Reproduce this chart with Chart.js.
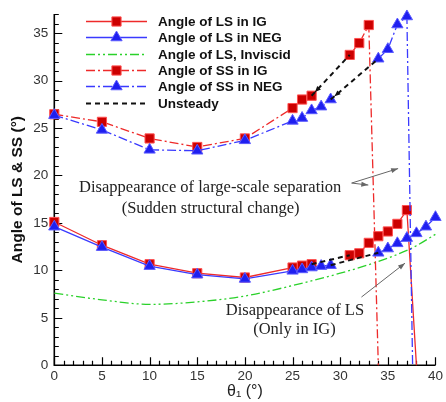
<!DOCTYPE html>
<html><head><meta charset="utf-8">
<script src="https://cdn.jsdelivr.net/npm/chart.js@4.4.1/dist/chart.umd.min.js"></script>
<style>html,body{margin:0;padding:0;background:#fff}#wrap{width:446px;height:402px;position:relative}</style>
</head><body><div id="wrap"><canvas id="c"></canvas></div>
<script>
// ---- data (x = theta1 in deg, y = angle in deg; null = gap) ----
const lsIG   = [[0,15.1],[5,12.65],[10,10.65],[15,9.7],[20,9.25],[25,10.3],[26,10.5],[27,10.65],[29,null],[31,11.6],[32,11.8],[33,12.9],[34,13.6],[35,14.1],[36,14.9],[37,16.35],[38,0]];
const lsNEG  = [[0,14.6],[5,12.45],[10,10.45],[15,9.55],[20,9.1],[25,9.95],[26,10.1],[27,10.3],[28,10.45],[29,10.55],[31,null],[34,11.85],[35,12.3],[36,12.85],[37,13.4],[38,13.9],[39,14.6],[40,15.6]];
const lsInv  = [[0,7.6],[5,6.9],[10,6.42],[15,6.68],[20,7.3],[25,8.4],[30,9.7],[33,10.6],[35,11.3],[37,12.1],[38,12.6],[40,13.8]];
const ssIG   = [[0,26.45],[5,25.65],[10,23.9],[15,23.0],[20,23.9],[25,27.1],[26,28.0],[27,28.4],[29,null],[31,32.7],[32,33.95],[33,35.85],[34,0]];
const ssNEG  = [[0,26.35],[5,24.8],[10,22.7],[15,22.6],[20,23.7],[25,25.75],[26,26.05],[27,26.85],[28,27.25],[29,28.0],[31,null],[34,32.3],[35,33.3],[36,35.9],[37,36.75],[37.6,0]];
const unsteady = [[27,28.4],[31,32.7],[30,null],[29,28.0],[34,32.3],[30,null],[27,10.65],[31,11.6],[30,null],[29,10.55],[34,11.85]];
const xTicks = [0,5,10,15,20,25,30,35,40];
const yTicks = [0,5,10,15,20,25,30,35];
const endPoints = {lsIG:[38,0], ssIG:[34,0], ssNEG:[37.6,0]};

const toPts = a => a.map(p => ({x:p[0], y:p[1]}));
const isEnd = (name) => (ctx) => { const e = endPoints[name]; const r = ctx.raw; return (e && r && r.x===e[0] && r.y===e[1]) ? 0 : 6.5; };

const RED_L='#ee2a2a', RED_F='#cc0000', BLUE_L='#3a3aff', BLUE_F='#1f1ff0', GREEN='#2ad12a';
const DD=[9,3,2,3], DDD=[9,3,2,3,2,3];

const datasets = [
 {label:'Angle of LS in IG', data:toPts(lsIG), borderColor:RED_L, borderWidth:1.3, pointStyle:'rect', pointRadius:isEnd('lsIG'), pointBackgroundColor:RED_F, pointBorderColor:'#ff5050', pointBorderWidth:1, spanGaps:false, clip:false, order:2},
 {label:'Angle of LS in NEG', data:toPts(lsNEG), borderColor:BLUE_L, borderWidth:1.3, pointStyle:'triangle', pointRadius:6.5, pointBackgroundColor:BLUE_F, pointBorderColor:'#5a5aff', pointBorderWidth:1, spanGaps:false, clip:false, order:1},
 {label:'Angle of LS, Inviscid', data:toPts(lsInv), borderColor:GREEN, borderWidth:1.3, borderDash:DDD, pointRadius:0, cubicInterpolationMode:'monotone', clip:false, order:3},
 {label:'Angle of SS in IG', data:toPts(ssIG), borderColor:RED_L, borderWidth:1.3, borderDash:DD, pointStyle:'rect', pointRadius:isEnd('ssIG'), pointBackgroundColor:RED_F, pointBorderColor:'#ff5050', pointBorderWidth:1, spanGaps:false, clip:false, order:2},
 {label:'Angle of SS in NEG', data:toPts(ssNEG), borderColor:BLUE_L, borderWidth:1.3, borderDash:DD, pointStyle:'triangle', pointRadius:isEnd('ssNEG'), pointBackgroundColor:BLUE_F, pointBorderColor:'#5a5aff', pointBorderWidth:1, spanGaps:false, clip:false, order:1},
 {label:'Unsteady', data:toPts(unsteady), borderColor:'#111', borderWidth:2, borderDash:[5,4], pointRadius:0, spanGaps:false, clip:false, order:0}
];

// ticks drawn inward + axis lines
const axisPlugin = {
 id:'axisTicks',
 beforeDatasetsDraw(chart){
  const {ctx, scales:{x,y}, chartArea:a} = chart;
  ctx.save(); ctx.strokeStyle='#000'; ctx.lineWidth=1.2; ctx.setLineDash([]);
  ctx.beginPath();
  for(let v=0; v<=40; v++){ const px=Math.round(x.getPixelForValue(v))+0.5; const L = v%5===0?8:4.5; ctx.moveTo(px,a.bottom); ctx.lineTo(px,a.bottom-L); }
  for(let v=0; v<=37; v++){ const py=Math.round(y.getPixelForValue(v))+0.5; const L = v%5===0?8:4.5; ctx.moveTo(a.left,py); ctx.lineTo(a.left+L,py); }
  ctx.stroke();
  ctx.lineWidth=1.6; ctx.beginPath();
  ctx.moveTo(a.left,a.top); ctx.lineTo(a.left,a.bottom); ctx.lineTo(a.right,a.bottom); ctx.stroke();
  ctx.restore();
 }
};

function arrow(ctx,x0,y0,x1,y1,color,hl,hw){
 ctx.save(); ctx.strokeStyle=color; ctx.fillStyle=color; ctx.lineWidth=1; ctx.setLineDash([]);
 ctx.beginPath(); ctx.moveTo(x0,y0); ctx.lineTo(x1,y1); ctx.stroke();
 const ang=Math.atan2(y1-y0,x1-x0);
 ctx.beginPath(); ctx.moveTo(x1,y1);
 ctx.lineTo(x1-hl*Math.cos(ang)+hw*Math.sin(ang), y1-hl*Math.sin(ang)-hw*Math.cos(ang));
 ctx.lineTo(x1-hl*Math.cos(ang)-hw*Math.sin(ang), y1-hl*Math.sin(ang)+hw*Math.cos(ang));
 ctx.closePath(); ctx.fill(); ctx.restore();
}

// annotations (data coordinates)
const notes = [
 {text:'Disappearance of large-scale separation', x:16.36, y:18.7},
 {text:'(Sudden structural change)', x:16.4, y:16.46},
 {text:'Disappearance of LS', x:25.25, y:5.72},
 {text:'(Only in IG)', x:25.2, y:3.79}
];
const arrows = [
 {from:[31.2,19.2], to:[36.08,20.73]},
 {from:[31.2,19.2], to:[32.95,18.99]},
 {from:[32.23,7.19], to:[36.8,10.76]}
];
const annoPlugin = {
 id:'anno',
 afterDatasetsDraw(chart){
  const {ctx, scales:{x,y}} = chart;
  ctx.save();
  ctx.font='16.5px "Liberation Serif", "Times New Roman", serif';
  ctx.fillStyle='#222'; ctx.textAlign='center'; ctx.textBaseline='middle';
  notes.forEach(n=>ctx.fillText(n.text, x.getPixelForValue(n.x), y.getPixelForValue(n.y)));
  arrows.forEach(a=>arrow(ctx, x.getPixelForValue(a.from[0]), y.getPixelForValue(a.from[1]), x.getPixelForValue(a.to[0]), y.getPixelForValue(a.to[1]), '#666', 7, 2.5));
  // small arrowheads on the upper unsteady segments (pointing to lower end)
  [[0,1],[3,4]].forEach(([i0,i1])=>{
   const p0=unsteady[i0], p1=unsteady[i1];
   const X0=x.getPixelForValue(p0[0]), Y0=y.getPixelForValue(p0[1]);
   const X1=x.getPixelForValue(p1[0]), Y1=y.getPixelForValue(p1[1]);
   const d=Math.hypot(X1-X0,Y1-Y0), ux=(X1-X0)/d, uy=(Y1-Y0)/d;
   const tx=X0+ux*5, ty=Y0+uy*5;
   arrow(ctx, tx+ux*3, ty+uy*3, tx, ty, '#111', 6, 2.5);
  });
  ctx.restore();
 }
};

// legend with line + marker
const legendPlugin = {
 id:'lineLegend',
 afterDraw(chart){
  const ctx=chart.ctx; const x0=86, x1=147, tx=158, y0=20.7, dy=16.4;
  ctx.save();
  chart.data.datasets.forEach((ds,i)=>{
   const yy=Math.round(y0+i*dy)+0.5;
   ctx.strokeStyle=ds.borderColor; ctx.lineWidth=ds.borderWidth; ctx.setLineDash(ds.borderDash||[]);
   ctx.beginPath(); ctx.moveTo(x0,yy); ctx.lineTo(x1,yy); ctx.stroke();
   ctx.setLineDash([]);
   if(ds.pointStyle){
    ctx.fillStyle=ds.pointBackgroundColor; ctx.strokeStyle=ds.pointBorderColor; ctx.lineWidth=ds.pointBorderWidth;
    Chart.helpers.drawPoint(ctx,{pointStyle:ds.pointStyle, radius:6.5, rotation:0, borderWidth:ds.pointBorderWidth}, (x0+x1)/2, yy);
   }
   ctx.fillStyle='#111'; ctx.font='bold 13.5px "Liberation Sans", Arial, sans-serif';
   ctx.textAlign='left'; ctx.textBaseline='middle';
   ctx.fillText(ds.label, tx, yy+0.5);
  });
  ctx.restore();
 }
};

new Chart(document.getElementById('c'), {
 type:'line',
 data:{datasets},
 options:{
  responsive:true, maintainAspectRatio:false, animation:false,
  layout:{padding:{top:14, right:7.3, left:0, bottom:0}},
  plugins:{legend:{display:false}, tooltip:{enabled:false}},
  elements:{line:{tension:0}},
  scales:{
   x:{type:'linear', min:0, max:40,
      afterBuildTicks:s=>{ s.ticks = xTicks.map(v=>({value:v})); },
      afterFit:s=>{ s.height = 36.7; },
      grid:{display:false, drawTicks:false}, border:{display:false},
      ticks:{padding:3, color:'#333', font:{family:'"Liberation Sans", Arial, sans-serif', size:13.5}, maxRotation:0, autoSkip:false},
      title:{display:true, text:'θ₁ (°)', color:'#222', font:{family:'"Liberation Sans", Arial, sans-serif', size:16}, padding:{top:0,bottom:0.7}}
   },
   y:{type:'linear', min:0, max:37,
      afterBuildTicks:s=>{ s.ticks = yTicks.map(v=>({value:v})); },
      afterFit:s=>{ s.width = 54.3; },
      grid:{display:false, drawTicks:false}, border:{display:false},
      ticks:{padding:6, color:'#333', font:{family:'"Liberation Sans", Arial, sans-serif', size:13.5}, autoSkip:false},
      title:{display:true, text:'Angle of LS & SS (°)', color:'#111', font:{family:'"Liberation Sans", Arial, sans-serif', size:15.5, weight:'bold'}, padding:{top:8.7,bottom:0}}
   }
  }
 },
 plugins:[axisPlugin, annoPlugin, legendPlugin]
});
</script></body></html>
